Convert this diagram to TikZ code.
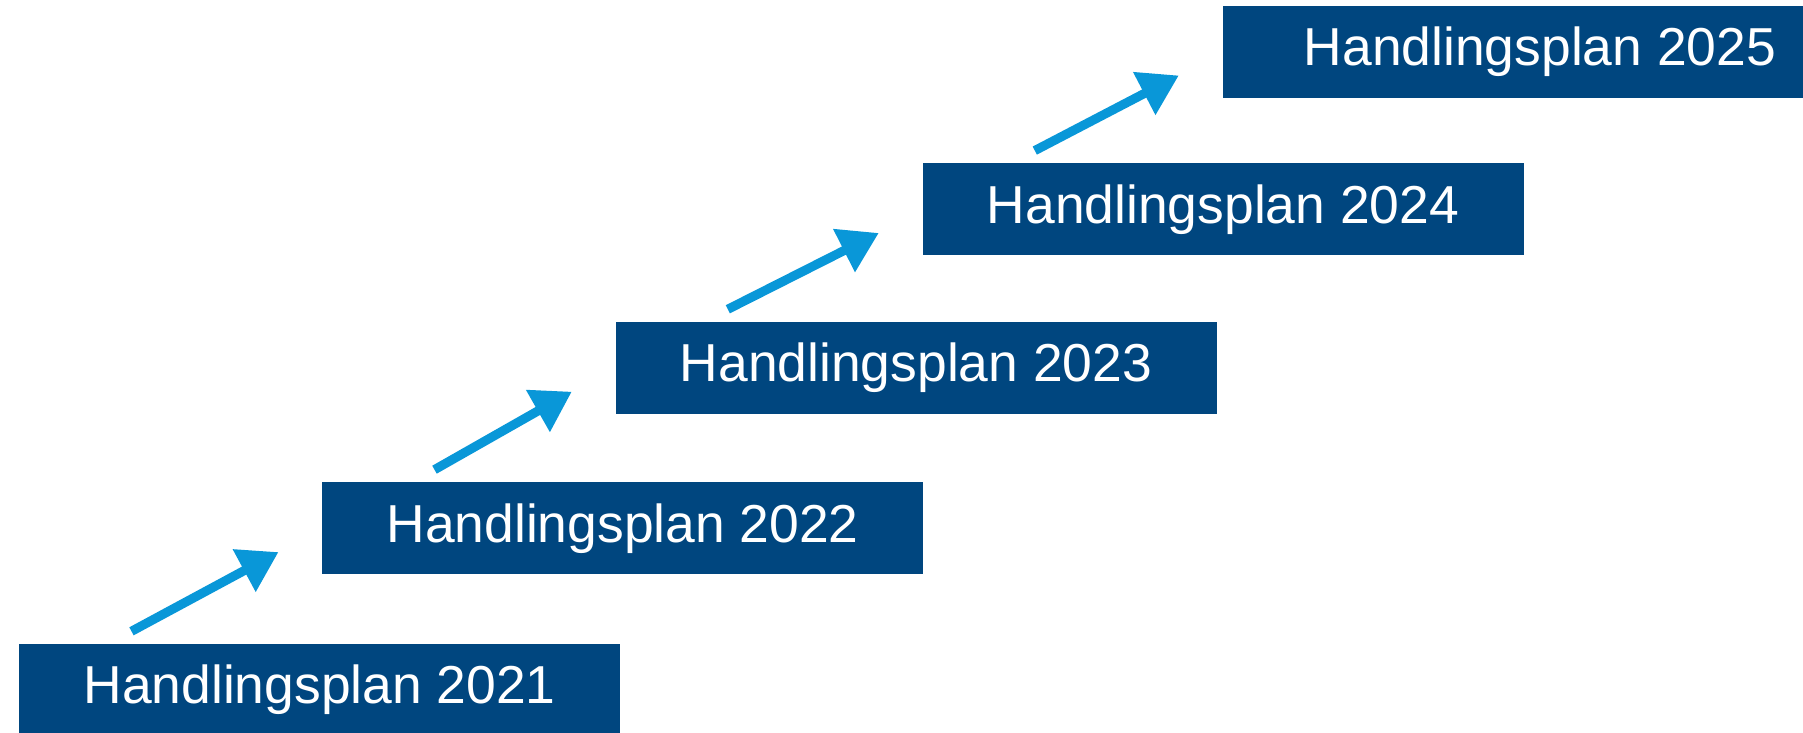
\documentclass[tikz,border=0pt]{standalone}
\usepackage{fontspec}
\setmainfont{Liberation Sans}
\usepackage{tikz}
\usetikzlibrary{arrows.meta}
\definecolor{planblue}{RGB}{0,70,127}
\definecolor{stepcyan}{RGB}{9,151,216}

\begin{document}
\begin{tikzpicture}[
        plan/.style={fill=planblue,text=white,inner sep=0pt,
                minimum width=6.01cm,minimum height=.92cm,
                font=\fontsize{15.2}{18}\selectfont},
        up/.style={draw=stepcyan,line width=2.6pt,
                -{Triangle[length=3.9mm,width=4.6mm]}}]
        \useasboundingbox (0,0) rectangle (18.03,7.33);
        \node[plan] (h1) at (3.197,.43) {Handlingsplan 2021};
        \node[plan] (h2) at (6.227,2.046) {Handlingsplan 2022};
        \node[plan] (h3) at (9.16,3.65) {Handlingsplan 2023};
        \node[plan] (h4) at (12.23,5.237) {Handlingsplan 2024};
        \node[plan,minimum width=6.35cm] (h5) at (15.4,6.812) {Handlingsplan 2025};
        \foreach \a/\b in {h1/h2,h2/h3,h3/h4,h4/h5}{
                \coordinate (\a-out) at ([shift={(1.13,.12)}]\a.north west);
                \coordinate (\b-in) at ([shift={(-.43,.23)}]\b.south west);
                \draw[up] (\a-out) -- (\b-in);
        }
\end{tikzpicture}
\end{document}
